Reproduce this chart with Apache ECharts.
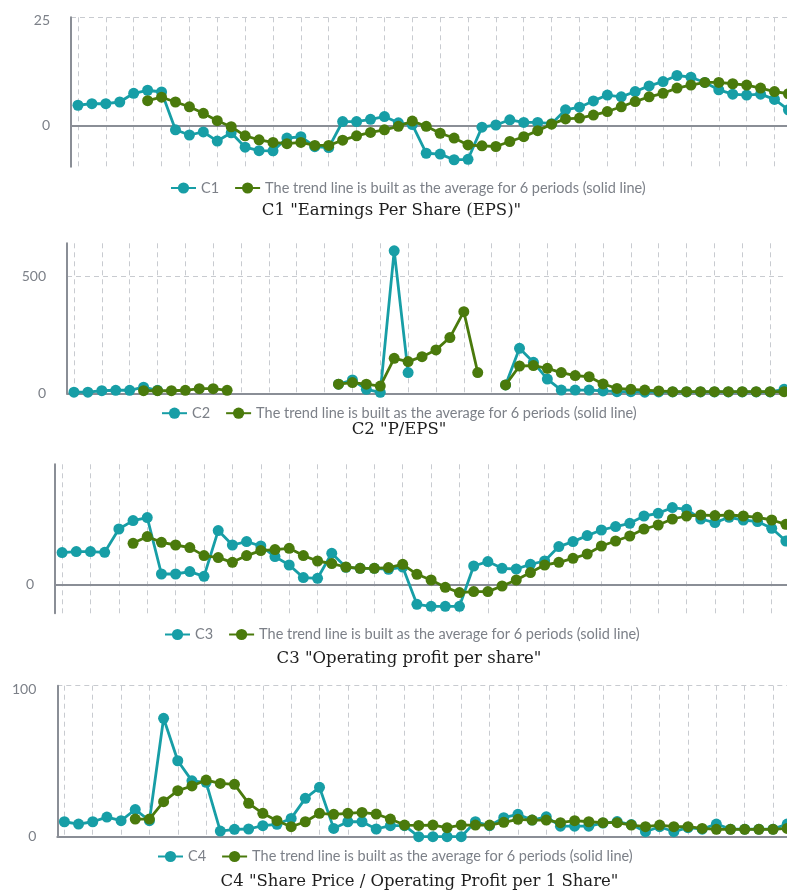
<!DOCTYPE html>
<html><head><meta charset="utf-8">
<script src="https://cdn.jsdelivr.net/npm/echarts@6/dist/echarts.min.js"></script>
<style>html,body{margin:0;padding:0;background:#fff}#c{width:787px;height:891px}</style>
</head><body><div id="c"></div><script>
const periods = [1,2,3,4,5,6,7,8,9,10,11,12,13,14,15,16,17,18,19,20,21,22,23,24,25,26,27,28,29,30,31,32,33,34,35,36,37,38,39,40,41,42,43,44,45,46,47,48,49,50,51,52];
const trendName = 'The trend line is built as the average for 6 periods (solid line)';
const titles = ['C1 "Earnings Per Share (EPS)"', 'C2 "P/EPS"', 'C3 "Operating profit per share"', 'C4 "Share Price / Operating Profit per 1 Share"'];
const seriesNames = ['C1', 'C2', 'C3', 'C4'];
const yTicks1 = [0, 25];
const yTicks2 = [0, 500];
const yTicks3 = [0];
const yTicks4 = [0, 100];

const c1 = [4.75,5.1,5.1,5.5,7.5,8.2,7.8,-0.9,-2.1,-1.4,-3.5,-1.6,-4.9,-5.7,-5.75,-2.8,-2.5,-4.8,-5.0,1.0,1.0,1.5,2.15,0.7,0.3,-6.3,-6.5,-7.8,-7.7,-0.3,0.2,1.4,0.8,0.8,0.5,3.7,4.3,5.75,7.1,6.7,7.9,9.2,10.2,11.6,11.2,10.0,8.3,7.3,7.1,7.3,6.1,3.7];
const t1 = [null,null,null,null,null,5.8,6.6,5.5,4.4,2.9,1.2,-0.2,-2.3,-3.2,-3.8,-4.1,-3.8,-4.5,-4.5,-3.3,-2.3,-1.5,-0.9,-0.1,1.1,-0.1,-1.7,-2.8,-4.4,-4.6,-4.75,-3.6,-2.5,-1.1,0.4,1.6,1.8,2.5,3.3,4.4,5.6,6.7,7.5,8.7,9.4,10.0,10.0,9.7,9.4,8.7,7.9,7.4];

const c2 = [5,5,11,13,13,26,13,null,null,null,null,null,null,null,null,null,null,null,null,39,57,17,4,611,89,null,null,null,null,null,null,36,193,133,61,14,14,14,10,7,7,5,6,6,6,6,6,6,6,6,6,17];
const t2 = [null,null,null,null,null,11,11,11,13,20,20,13,null,null,null,null,null,null,null,39,46,39,31,150,136,157,186,239,350,89,null,36,117,119,107,89,76,71,40,21,17,14,10,7,7,7,7,7,7,7,7,7];

const c3 = [3.17,3.27,3.27,3.2,5.53,6.37,6.67,1.03,1.03,1.27,0.8,5.37,3.93,4.27,3.83,2.77,1.93,0.67,0.6,3.1,1.7,1.6,1.6,1.5,1.73,-2.0,-2.2,-2.2,-2.2,1.83,2.27,1.6,1.53,2.0,2.33,3.77,4.27,4.87,5.43,5.77,6.1,6.83,7.1,7.67,7.5,6.53,6.17,6.7,6.43,6.27,5.6,4.33];
const t3 = [null,null,null,null,null,4.1,4.77,4.2,3.93,3.67,2.87,2.67,2.2,2.87,3.37,3.47,3.6,2.87,2.33,2.07,1.73,1.6,1.6,1.67,2.0,1.0,0.43,-0.3,-0.83,-0.73,-0.73,-0.17,0.43,1.17,1.93,2.2,2.6,3.03,3.83,4.33,4.83,5.53,5.93,6.53,6.83,6.93,6.87,6.93,6.83,6.7,6.43,6.0];

const c4 = [9.9,8.4,9.9,13.0,10.6,18.0,10.6,78.4,50.3,37,36,3.75,4.9,5.1,7.3,8.2,12.1,25.4,32.7,5.5,9.9,9.9,5.1,7.3,7.3,0,0,0,0,9.9,7.3,12.6,14.8,11,13.2,7,7,7,9,10,8,3.3,6.6,3.3,6,5,8.4,5,5,5,5,8.4];
const t4 = [null,null,null,null,null,11.7,11.7,23.2,30.5,33.6,37.5,35.3,34.7,22.1,15.5,10.6,6.6,9.9,15.5,14.8,15.5,16.1,15.0,11.7,7.7,7.5,7.7,6.0,7.7,7.7,7.7,9.5,11.5,11,11,9.3,10.6,9.9,9.3,9.3,7.7,6.6,7.7,6.6,6.6,5.5,4.9,4.9,4.9,4.9,4.9,5.5];

const mains = [c1, c2, c3, c4];
const trends = [t1, t2, t3, t4];
const ticks = [yTicks1, yTicks2, yTicks3, yTicks4];

// layout (pixels)
const layout = [
  {left:71,   top:17.3,  width:724.4, height:149.4, ymin:-9.4, ymax:25,  legendLeft:170, legendY:187.5, titleX:391.5, titleY:211},
  {left:67,   top:243.3, width:724,   height:150,   ymin:0,    ymax:643, legendLeft:161, legendY:412.7, titleX:399,   titleY:430},
  {left:55,   top:464.3, width:738,   height:149,   ymin:-2.9, ymax:12,  legendLeft:164, legendY:634,   titleX:409,   titleY:659},
  {left:57.3, top:685.7, width:737,   height:151,   ymin:0,    ymax:100, legendLeft:157, legendY:856,   titleX:419.5, titleY:881.5}
];

const TEAL = '#179ea6';
const GREEN = '#4a7a0c';
const AXIS = '#8a8e96';
const GRIDC = '#c8cbd0';
const LABEL = '#7c8088';
const FONT = 'Lato, "Noto Sans", sans-serif';

const option = {
  animation: false,
  backgroundColor: '#fff',
  grid: [], xAxis: [], yAxis: [], series: [], legend: [], graphic: []
};

layout.forEach((L, i) => {
  option.grid.push({left: L.left, top: L.top, width: L.width, height: L.height, containLabel: false, outerBoundsMode: 'none'});
  option.xAxis.push({
    gridIndex: i, type: 'category', data: periods, boundaryGap: true,
    axisLine: {show: true, onZero: true, lineStyle: {color: AXIS, width: 2}},
    axisTick: {show: false}, axisLabel: {show: false},
    splitLine: {show: true, interval: 1, alignWithLabel: true, lineStyle: {type: [5, 4], color: GRIDC, width: 1}}
  });
  option.yAxis.push({
    gridIndex: i, type: 'value', min: L.ymin, max: L.ymax,
    axisLine: {show: true, lineStyle: {color: AXIS, width: 2}},
    axisTick: {show: false, customValues: ticks[i]},
    axisLabel: {
      show: true, customValues: ticks[i], color: LABEL, fontFamily: FONT, fontSize: 14, margin: 21,
      formatter: v => (v === L.ymax ? '{m|' + v + '}' : String(v)),
      rich: {m: {padding: [7, 0, 0, 0], color: LABEL, fontFamily: FONT, fontSize: 14}}
    },
    splitLine: {show: true, lineStyle: {type: [5, 4], color: GRIDC, width: 1}}
  });
  option.series.push({
    type: 'line', name: seriesNames[i], xAxisIndex: i, yAxisIndex: i, data: mains[i],
    symbol: 'circle', symbolSize: 11, showAllSymbol: true, connectNulls: false,
    lineStyle: {width: 2.8, color: TEAL}, itemStyle: {color: TEAL}, z: 2
  });
  option.series.push({
    type: 'line', name: trendName, xAxisIndex: i, yAxisIndex: i, data: trends[i],
    symbol: 'circle', symbolSize: 11, showAllSymbol: true, connectNulls: false,
    lineStyle: {width: 2.8, color: GREEN}, itemStyle: {color: GREEN}, z: 3
  });
  option.legend.push({
    data: [seriesNames[i], trendName], left: L.legendLeft, top: L.legendY - 7,
    itemWidth: 25, itemHeight: 14, itemGap: 15, selectedMode: false, padding: 0,
    textStyle: {color: LABEL, fontFamily: FONT, fontSize: 14.5}
  });
  option.graphic.push({
    type: 'text', x: L.titleX, y: L.titleY,
    style: {text: titles[i], fill: '#1e1e1e', fontFamily: '"DejaVu Serif", serif', fontSize: 16.5, align: 'center', verticalAlign: 'middle'}
  });
});

const chart = echarts.init(document.getElementById('c'), null, {renderer: 'canvas'});
chart.setOption(option);
</script></body></html>
